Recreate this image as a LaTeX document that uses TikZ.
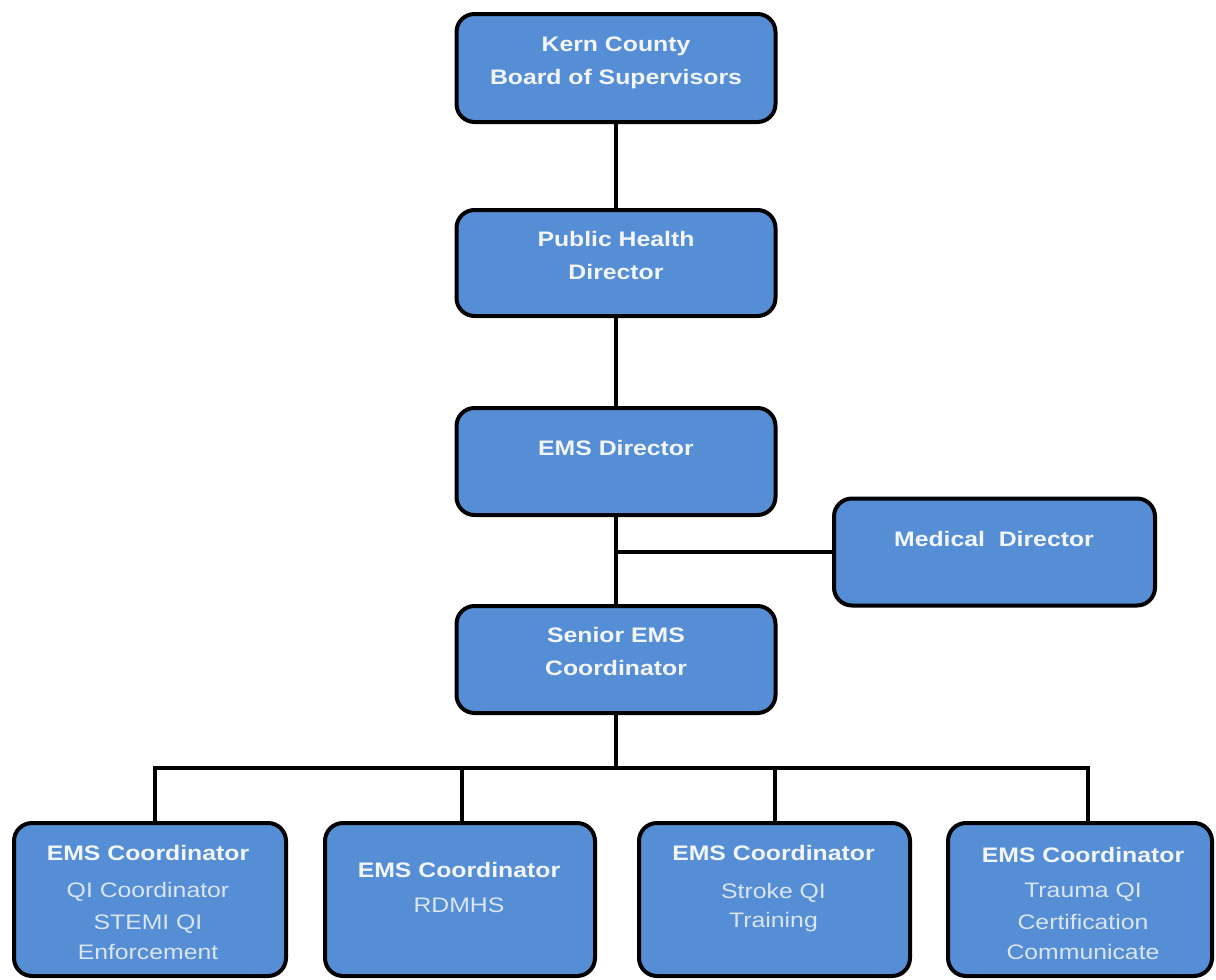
\documentclass[tikz,border=0pt]{standalone}
\usepackage{fontspec}
\newfontfamily\boxfont[FakeStretch=1.18]{Liberation Sans}
\definecolor{boxblue}{RGB}{85,142,213}
\definecolor{headtext}{RGB}{242,246,251}
\definecolor{subtext}{RGB}{218,229,242}
\begin{document}
\begin{tikzpicture}[x=1pt,y=-1pt,
  box/.style={rectangle, draw=black, line width=4pt, fill=boxblue, rounded corners=18pt, inner sep=0pt},
  conn/.style={draw=black, line width=4pt, line join=miter},
  hd/.style={font=\boxfont\bfseries\fontsize{21}{25}\selectfont, text=headtext, anchor=base, inner sep=0pt},
  sub/.style={font=\boxfont\fontsize{21}{25}\selectfont, text=subtext, anchor=base, inner sep=0pt}]
\fill[white] (0,0) rectangle (1216,980);
\useasboundingbox (0,0) rectangle (1216,980);

% boxes
\node[box, minimum width=319pt, minimum height=108pt] (kern) at (616,68) {};
\node[box, minimum width=319pt, minimum height=106pt] (ph) at (616,263) {};
\node[box, minimum width=319pt, minimum height=107pt] (emsd) at (616,461.5) {};
\node[box, minimum width=321pt, minimum height=107pt] (med) at (994.5,552) {};
\node[box, minimum width=319pt, minimum height=107pt] (sen) at (616,659.5) {};
\node[box, minimum width=272pt, minimum height=153pt] (b1) at (150,899.5) {};
\node[box, minimum width=270pt, minimum height=153pt] (b2) at (460,899.5) {};
\node[box, minimum width=271pt, minimum height=153pt] (b3) at (774.5,899.5) {};
\node[box, minimum width=264pt, minimum height=153pt] (b4) at (1080,899.5) {};

% connectors
\draw[conn] (kern.south) -- (ph.north);
\draw[conn] (ph.south) -- (emsd.north);
\draw[conn] (emsd.south) -- (sen.north);
\draw[conn] (med.west) -- (med.west -| emsd.south);
\coordinate (bus) at (616,768);
\coordinate (d1) at (155,768);
\coordinate (d2) at (462,768);
\coordinate (d3) at (775,768);
\coordinate (d4) at (1088,768);
\draw[conn] (sen.south) -- (bus);
\draw[conn] (d1 |- b1.north) -- (d1) -- (d4) -- (d4 |- b4.north);
\draw[conn] (d2) -- (d2 |- b2.north);
\draw[conn] (d3) -- (d3 |- b3.north);

% texts
\node[hd] (kern1) at (616,51.5) {Kern County};
\node[hd] (kern2) at (616,84.5) {Board of Supervisors};
\node[hd] (ph1) at (616,246.5) {Public Health};
\node[hd] (ph2) at (616,279.5) {Director};
\node[hd] (emsd1) at (616,455.5) {EMS Director};
\node[hd] (med1) at (994,546.5) {Medical\ \ Director};
\node[hd] (sen1) at (616,642.5) {Senior EMS};
\node[hd] (sen2) at (616,675.5) {Coordinator};

\node[hd] (b1a) at (148,860.5) {EMS Coordinator};
\node[sub] (b1b) at (148,897.5) {QI Coordinator};
\node[sub] (b1c) at (148,929.5) {STEMI QI};
\node[sub] (b1d) at (148,959.5) {Enforcement};

\node[hd] (b2a) at (459,877.5) {EMS Coordinator};
\node[sub] (b2b) at (459,912.5) {RDMHS};

\node[hd] (b3a) at (773.5,860.5) {EMS Coordinator};
\node[sub] (b3b) at (773.5,898.5) {Stroke QI};
\node[sub] (b3c) at (773.5,927.5) {Training};

\node[hd] (b4a) at (1083,862.5) {EMS Coordinator};
\node[sub] (b4b) at (1083,897.5) {Trauma QI};
\node[sub] (b4c) at (1083,929.5) {Certification};
\node[sub] (b4d) at (1083,959.5) {Communicate};
\end{tikzpicture}
\end{document}
